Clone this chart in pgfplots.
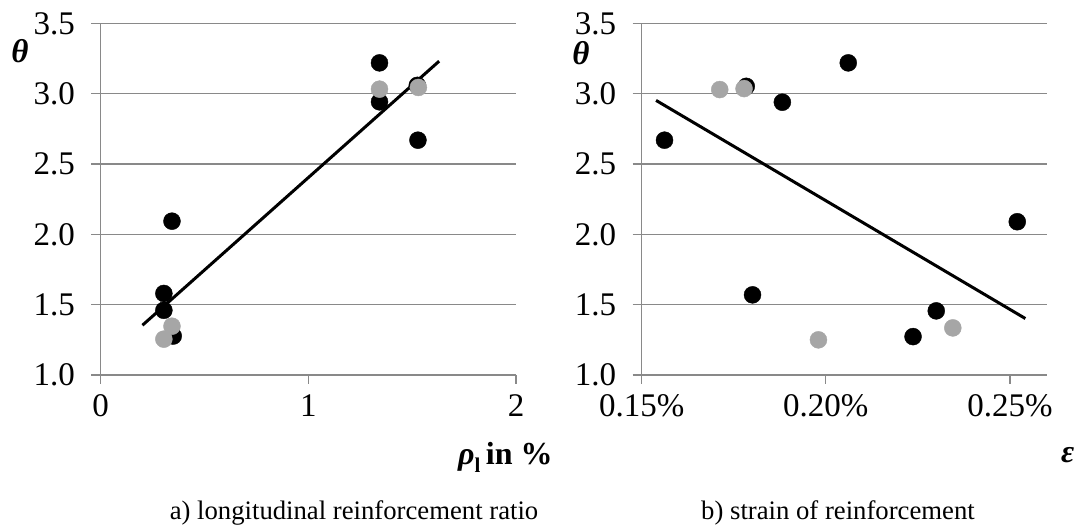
\documentclass[border=0pt]{standalone}
\usepackage{fontspec}
\setmainfont{Liberation Serif}
\usepackage{pgfplots}
\pgfplotsset{compat=1.18}
\definecolor{gridgray}{RGB}{137,137,137}
\definecolor{markgray}{RGB}{166,166,166}
\pgfplotsset{
 myax/.style={
  scale only axis,
  axis x line*=bottom, axis y line*=left,
  axis line style={gridgray, line width=1.3pt},
  ymin=1, ymax=3.5, ytick={1,1.5,2,2.5,3,3.5},
  ymajorgrids, grid style={gridgray, line width=1.3pt},
  tick align=outside, major tick length=9pt,
  tick style={gridgray, line width=1.3pt},
  /pgf/number format/assume math mode=true,
  tick label style={font=\fontsize{33}{38}\selectfont},
  yticklabel style={/pgf/number format/fixed, /pgf/number format/fixed zerofill,
    /pgf/number format/precision=1, xshift=-13pt},
  xticklabel style={yshift=-7pt},
  clip=false,
 },
 blk/.style={only marks, mark=*, mark size=8.5pt, mark options={draw=black, fill=black}},
 gry/.style={only marks, mark=*, mark size=8.5pt, mark options={draw=markgray, fill=markgray}},
 trend/.style={black, line width=3pt, no marks},
}
\begin{document}
\begin{tikzpicture}
\useasboundingbox (0pt,0pt) rectangle (1074pt,526pt);
\begin{axis}[myax, at={(100.5pt,151pt)}, anchor=south west,
  width=415.5pt, height=351.5pt,
  xmin=0, xmax=2, xtick={0,1,2}]
\addplot[blk] coordinates {
(1.343,3.22) (1.343,2.943) (1.525,3.06) (1.528,2.67)
(0.344,2.094) (0.305,1.58) (0.305,1.46) (0.35,1.277)};
\addplot[gry] coordinates {
(1.343,3.033) (1.53,3.045) (0.344,1.347) (0.305,1.255)};
\addplot[trend] coordinates {(0.202,1.354) (1.630,3.232)};
\end{axis}
\begin{axis}[myax, at={(641.7pt,151pt)}, anchor=south west,
  width=405pt, height=351.5pt,
  xmin=0.15, xmax=0.26, xtick={0.15,0.20,0.25},
  xticklabels={0.15\%,0.20\%,0.25\%}]
\addplot[blk] coordinates {
(0.1562,2.67) (0.1784,3.053) (0.1882,2.94) (0.2061,3.22)
(0.252,2.09) (0.1801,1.57) (0.23,1.456) (0.2237,1.273)};
\addplot[gry] coordinates {
(0.1712,3.03) (0.1778,3.037) (0.198,1.25) (0.2345,1.335)};
\addplot[trend] coordinates {(0.1539,2.953) (0.2542,1.4016)};
\end{axis}
\node[font=\fontsize{33}{38}\selectfont\bfseries\itshape] at (20pt,475pt) {θ};
\node[font=\fontsize{33}{38}\selectfont\bfseries\itshape] at (581pt,473pt) {θ};
\node[anchor=base west, inner sep=0pt, font=\fontsize{32}{38}\selectfont\bfseries] at (458pt,61pt)
  {\textit{ρ}\raisebox{-0.22em}{\fontsize{21}{24}\selectfont l}\,in \%};
\node[anchor=base west, inner sep=0pt, font=\fontsize{32}{38}\selectfont\bfseries\itshape] at (1061pt,63pt) {ε};
\node[anchor=base, inner sep=0pt, font=\fontsize{26.7}{32}\selectfont] at (354pt,6pt) {a) longitudinal reinforcement ratio};
\node[anchor=base, inner sep=0pt, font=\fontsize{26.7}{32}\selectfont] at (838pt,6pt) {b) strain of reinforcement};
\end{tikzpicture}
\end{document}
